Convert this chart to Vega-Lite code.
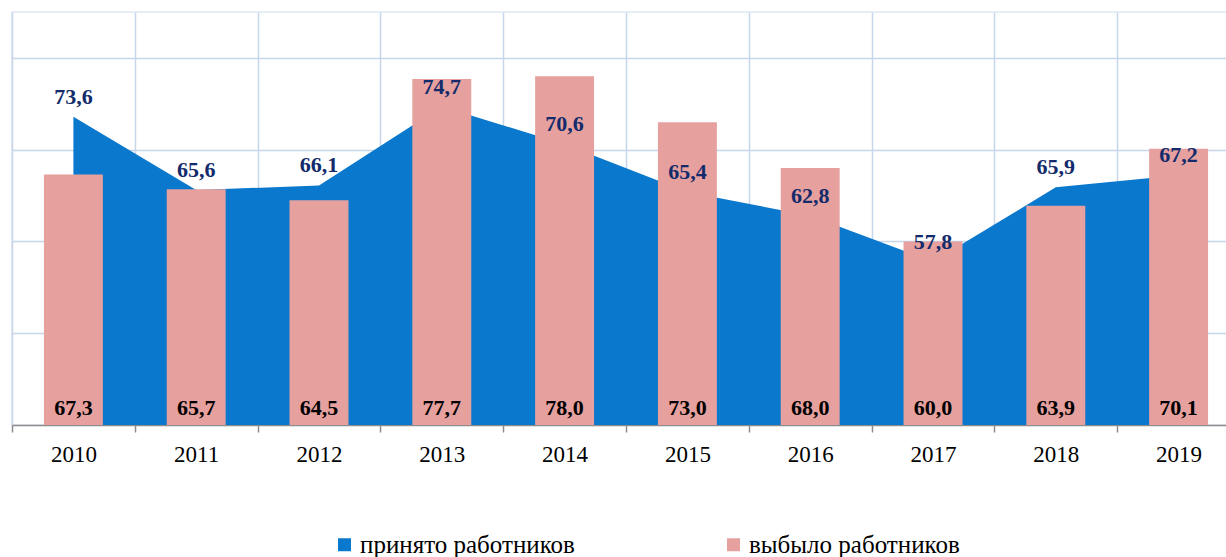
{
  "$schema": "https://vega.github.io/schema/vega-lite/v6.json",
  "width": 1228,
  "height": 413,
  "autosize": {"type": "none"},
  "padding": {"left": 12, "top": 12, "right": 0, "bottom": 132},
  "background": "white",
  "config": {
    "locale": {"number": {"decimal": ",", "thousands": " ", "grouping": [3], "currency": ["", ""]}},
    "view": {"stroke": "#dfe7f3", "strokeWidth": 1.5},
    "font": "Liberation Serif"
  },
  "data": {
    "values": [
      {"year": "2010", "hired": 73.6, "left": 67.3},
      {"year": "2011", "hired": 65.6, "left": 65.7},
      {"year": "2012", "hired": 66.1, "left": 64.5},
      {"year": "2013", "hired": 74.7, "left": 77.7},
      {"year": "2014", "hired": 70.6, "left": 78.0},
      {"year": "2015", "hired": 65.4, "left": 73.0},
      {"year": "2016", "hired": 62.8, "left": 68.0},
      {"year": "2017", "hired": 57.8, "left": 60.0},
      {"year": "2018", "hired": 65.9, "left": 63.9},
      {"year": "2019", "hired": 67.2, "left": 70.1}
    ]
  },
  "encoding": {
    "x": {
      "field": "year",
      "type": "nominal",
      "scale": {"paddingInner": 0, "paddingOuter": 0},
      "axis": {
        "title": null,
        "labelAngle": 0,
        "labelFont": "Liberation Serif",
        "labelFontSize": 23,
        "labelColor": "black",
        "labelPadding": 11,
        "domainColor": "#8c8c8c",
        "domainWidth": 1.5,
        "tickColor": "#8c8c8c",
        "tickWidth": 1.5,
        "tickSize": 7,
        "tickBand": "extent",
        "grid": true,
        "gridColor": "#c5d5ea",
        "gridWidth": 1.5
      }
    }
  },
  "layer": [
    {
      "mark": {"type": "area", "opacity": 1},
      "encoding": {
        "y": {
          "field": "hired",
          "type": "quantitative",
          "scale": {"domain": [40, 85], "zero": false, "nice": false},
          "axis": {
            "title": null,
            "labels": false,
            "ticks": false,
            "domain": false,
            "grid": true,
            "values": [50, 60, 70, 80],
            "gridColor": "#c5d5ea",
            "gridWidth": 1.5
          }
        },
        "y2": {"datum": 40},
        "color": {
          "datum": "принято работников",
          "type": "nominal",
          "scale": {
            "domain": ["принято работников", "выбыло работников"],
            "range": ["#0a78cc", "#e6a09e"]
          },
          "legend": {
            "orient": "none",
            "legendX": 320,
            "legendY": 520,
            "direction": "horizontal",
            "title": null,
            "symbolType": "square",
            "symbolSize": 169,
            "symbolStrokeWidth": 0,
            "symbolOpacity": 1,
            "labelFont": "Liberation Serif",
            "labelFontSize": 25,
            "labelColor": "black",
            "labelLimit": 0,
            "labelOffset": 3,
            "columnPadding": 146
          }
        }
      }
    },
    {
      "mark": {"type": "bar", "width": {"band": 0.48}},
      "encoding": {
        "y": {"field": "left", "type": "quantitative"},
        "y2": {"datum": 40},
        "color": {"datum": "выбыло работников", "type": "nominal"}
      }
    },
    {
      "mark": {
        "type": "text",
        "dy": -20,
        "baseline": "middle",
        "font": "Liberation Serif",
        "fontWeight": "bold",
        "fontSize": 22,
        "color": "#132b6b"
      },
      "encoding": {
        "y": {"field": "hired", "type": "quantitative"},
        "text": {"field": "hired", "type": "quantitative", "format": ".1f"}
      }
    },
    {
      "mark": {
        "type": "text",
        "dy": -17,
        "baseline": "middle",
        "font": "Liberation Serif",
        "fontWeight": "bold",
        "fontSize": 22,
        "color": "black"
      },
      "encoding": {
        "y": {"datum": 40},
        "text": {"field": "left", "type": "quantitative", "format": ".1f"}
      }
    }
  ]
}
